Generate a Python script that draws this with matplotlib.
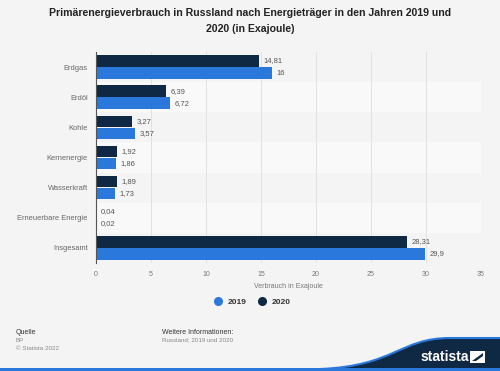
import matplotlib.pyplot as plt
from matplotlib.lines import Line2D
from matplotlib.path import Path
from matplotlib.patches import PathPatch, Rectangle, Polygon

plt.rcParams['font.family'] = ['Liberation Sans', 'DejaVu Sans']

# data
categories = ['Erdgas', 'Erdöl', 'Kohle', 'Kernenergie', 'Wasserkraft',
              'Erneuerbare Energie', 'Insgesamt']
values_2020 = [14.81, 6.39, 3.27, 1.92, 1.89, 0.04, 28.31]
values_2019 = [16, 6.72, 3.57, 1.86, 1.73, 0.02, 29.9]
x_ticks = [0, 5, 10, 15, 20, 25, 30, 35]

col_2019 = '#2b78dc'
col_2020 = '#0f2843'
bg = '#f4f4f4'


def fmt(v):
    return ('%g' % v).replace('.', ',')


fig = plt.figure(figsize=(5, 3.71), dpi=100, facecolor=bg)
ax = fig.add_axes([0.192, 0.291, 0.770, 0.569])
ax.set_facecolor(bg)

# alternating row bands
for i in range(len(categories)):
    ax.axhspan(i - 0.5, i + 0.5, color='#f9f9f9' if i % 2 else '#f4f4f4', zorder=0, lw=0)

h = 0.38
pos = list(range(len(categories)))
ax.barh([p - 0.2 for p in pos], values_2020, height=h, color=col_2020, zorder=3)
ax.barh([p + 0.2 for p in pos], values_2019, height=h, color=col_2019, zorder=3)

for p, v in zip(pos, values_2020):
    ax.text(v + 0.4, p - 0.2, fmt(v), va='center', ha='left', fontsize=5.5, color='#555555', zorder=4)
for p, v in zip(pos, values_2019):
    ax.text(v + 0.4, p + 0.2, fmt(v), va='center', ha='left', fontsize=5.5, color='#555555', zorder=4)

ax.set_xlim(0, 35)
ax.set_ylim(len(categories) - 0.5, -0.5)
ax.set_yticks(pos)
ax.set_yticklabels(categories, fontsize=5.4, color='#666666')
ax.set_xticks(x_ticks)
ax.set_xticklabels([str(t) for t in x_ticks], fontsize=5, color='#777777')
ax.tick_params(axis='x', length=0, pad=6)
ax.tick_params(axis='y', length=0, pad=6)
ax.grid(axis='x', color='#e1e1e1', lw=0.7, zorder=1)
for s in ['top', 'right', 'bottom']:
    ax.spines[s].set_visible(False)
ax.spines['left'].set_color('#555555')
ax.spines['left'].set_linewidth(0.8)
ax.spines['left'].set_zorder(5)
ax.set_xlabel('Verbrauch in Exajoule', fontsize=5, color='#777777', labelpad=3)

# title
fig.text(0.5, 0.978, 'Primärenergieverbrauch in Russland nach Energieträger in den Jahren 2019 und\n2020 (in Exajoule)',
         ha='center', va='top', fontsize=7.6, fontweight='bold', color='#222222', linespacing=1.75)

# legend
handles = [Line2D([], [], marker='o', ls='', color=col_2019, markersize=5.5, label='2019'),
           Line2D([], [], marker='o', ls='', color=col_2020, markersize=5.5, label='2020')]
leg = fig.legend(handles=handles, loc='center', bbox_to_anchor=(0.5, 1 - 302 / 371), ncol=2, frameon=False,
                 handletextpad=0.1, columnspacing=0.9, prop={'weight': 'bold', 'size': 6})
for t in leg.get_texts():
    t.set_color('#333333')

# footer
fig.text(16 / 500, 1 - 332 / 371, 'Quelle', fontsize=5, color='#333333', va='center')
fig.text(16 / 500, 1 - 340 / 371, 'BP', fontsize=4.5, color='#888888', va='center')
fig.text(16 / 500, 1 - 348 / 371, '© Statista 2022', fontsize=4.5, color='#888888', va='center')
fig.text(162 / 500, 1 - 332 / 371, 'Weitere Informationen:', fontsize=5, color='#333333', va='center')
fig.text(162 / 500, 1 - 340 / 371, 'Russland; 2019 und 2020', fontsize=4.5, color='#888888', va='center')


# statista wave + logo
def fx(px):
    return px / 500


def fy(py):
    return 1 - py / 371


verts = [(fx(320), fy(371)), (fx(320), fy(369)),
         (fx(395), fy(366)), (fx(400), fy(338)), (fx(450), fy(338)),
         (fx(500), fy(338)), (fx(500), fy(371)), (fx(320), fy(371))]
codes = [Path.MOVETO, Path.LINETO, Path.CURVE4, Path.CURVE4, Path.CURVE4,
         Path.LINETO, Path.LINETO, Path.CLOSEPOLY]
fig.patches.append(PathPatch(Path(verts, codes), transform=fig.transFigure, facecolor=col_2020,
                             edgecolor='none', zorder=1))
edge = [(fx(320), fy(369)), (fx(395), fy(366)), (fx(400), fy(338)), (fx(450), fy(338)), (fx(500), fy(338))]
fig.patches.append(PathPatch(Path(edge, [Path.MOVETO, Path.CURVE4, Path.CURVE4, Path.CURVE4, Path.LINETO]),
                             transform=fig.transFigure, facecolor='none', edgecolor=col_2019, lw=1.5, zorder=2))
fig.patches.append(Rectangle((0, 0), 1, 3 / 371, transform=fig.transFigure, facecolor=col_2019,
                             edgecolor='none', zorder=3))
fig.text(fx(421), fy(357), 'statista', fontsize=10, fontweight='bold', color='white', va='center', ha='left')
fig.patches.append(Rectangle((fx(470), fy(363)), fx(15), 12 / 371, transform=fig.transFigure,
                             facecolor='white', edgecolor='none', zorder=3))
fig.patches.append(Polygon([(fx(472), fy(361)), (fx(483), fy(353)), (fx(483), fy(356)), (fx(476), fy(361))],
                           transform=fig.transFigure, facecolor=col_2020, edgecolor='none', zorder=4))

fig.savefig('out.png', dpi=100, facecolor=bg)
